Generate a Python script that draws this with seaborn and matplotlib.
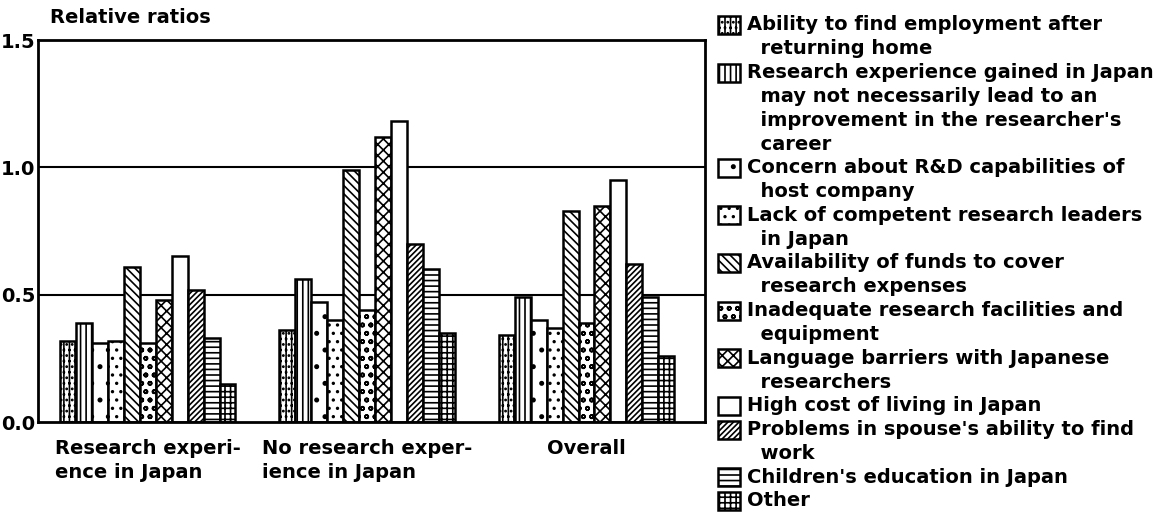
import numpy as np
import pandas as pd
import matplotlib
matplotlib.use("Agg")
import matplotlib.pyplot as plt
from matplotlib.patches import Rectangle
import seaborn as sns

# Respondent groups (x-axis categories)
groups = ["Research experi-\nence in Japan",
          "No research exper-\nience in Japan",
          "Overall"]

# Reasons (hue levels), wrapped as they appear in the key
reasons = [
    "Ability to find employment after\n  returning home",
    "Research experience gained in Japan\n  may not necessarily lead to an\n"
    "  improvement in the researcher's\n  career",
    "Concern about R&D capabilities of\n  host company",
    "Lack of competent research leaders\n  in Japan",
    "Availability of funds to cover\n  research expenses",
    "Inadequate research facilities and\n  equipment",
    "Language barriers with Japanese\n  researchers",
    "High cost of living in Japan",
    "Problems in spouse's ability to find\n  work",
    "Children's education in Japan",
    "Other",
]

# Relative ratios per group, one value per reason
exp_in_japan = [0.32, 0.39, 0.31, 0.32, 0.61, 0.31, 0.48, 0.65, 0.52, 0.33, 0.15]
no_exp_in_japan = [0.36, 0.56, 0.47, 0.40, 0.99, 0.44, 1.12, 1.18, 0.70, 0.60, 0.35]
overall = [0.34, 0.49, 0.40, 0.37, 0.83, 0.39, 0.85, 0.95, 0.62, 0.49, 0.26]

hatches = ["|||...", "|||", ".", "..", "\\\\\\\\", "oo", "xxx", "", "//////",
           "---", "+++"]

df = pd.DataFrame({
    "group": np.repeat(groups, len(reasons)),
    "reason": reasons * len(groups),
    "ratio": exp_in_japan + no_exp_in_japan + overall,
})

sns.set_style("white")
plt.rcParams["font.family"] = ["DejaVu Sans"]
plt.rcParams["font.weight"] = "bold"
plt.rcParams["text.color"] = "black"
plt.rcParams["axes.labelcolor"] = "black"
plt.rcParams["xtick.color"] = "black"
plt.rcParams["ytick.color"] = "black"
plt.rcParams["hatch.linewidth"] = 1.2
plt.rcParams["hatch.color"] = "black"

W, H = 1175, 516
fig = plt.figure(figsize=(W / 100, H / 100), dpi=100)
ax = fig.add_axes([38 / W, 1 - 422 / H, (705 - 38) / W, (422 - 40) / H])

for y in (0.5, 1.0):
    ax.axhline(y, color="black", lw=1.5, zorder=0.5)

sns.barplot(data=df, x="group", y="ratio", hue="reason", hue_order=reasons,
            order=groups, palette=["white"] * len(reasons), saturation=1,
            edgecolor="black", linewidth=1.8, width=0.8, legend=False,
            errorbar=None, ax=ax, zorder=2)

for cont, h in zip(ax.containers, hatches):
    for bar in cont:
        bar.set_hatch(h)

ax.set_xlim(-0.5, 2.54)
ax.set_ylim(0, 1.5)
ax.set_yticks([0, 0.5, 1.0, 1.5])
ax.set_yticklabels(["0.0", "0.5", "1.0", "1.5"], fontsize=14, fontweight="bold")
ax.tick_params(axis="y", length=0, pad=2)
ax.tick_params(axis="x", length=0, pad=12)
for lbl in ax.get_xticklabels():
    lbl.set_fontsize(14)
    lbl.set_fontweight("bold")
    lbl.set_multialignment("left")
    lbl.set_linespacing(1.35)
ax.set_xlabel("")
ax.set_ylabel("Relative ratios", rotation=0, ha="left", va="center",
              fontsize=14, fontweight="bold")
ax.yaxis.set_label_coords(0.018, 1.058)
for s in ax.spines.values():
    s.set_visible(True)
    s.set_linewidth(2)
    s.set_color("black")

# Key on the right: one text line every `pitch` pixels, swatch on the first line
pitch = 23.8
line = 0
for lab, h in zip(reasons, hatches):
    rows = lab.split("\n")
    yc = 25 + line * pitch
    fig.patches.append(Rectangle((718 / W, 1 - (yc + 9) / H), 22 / W, 18 / H,
                                 transform=fig.transFigure, facecolor="white",
                                 edgecolor="black", lw=1.8, hatch=h))
    for k, row in enumerate(rows):
        fig.text(747 / W, 1 - (yc + k * pitch) / H, row, ha="left",
                 va="center", fontsize=14, fontweight="bold")
    line += len(rows)

fig.savefig("out.png", dpi=100)
